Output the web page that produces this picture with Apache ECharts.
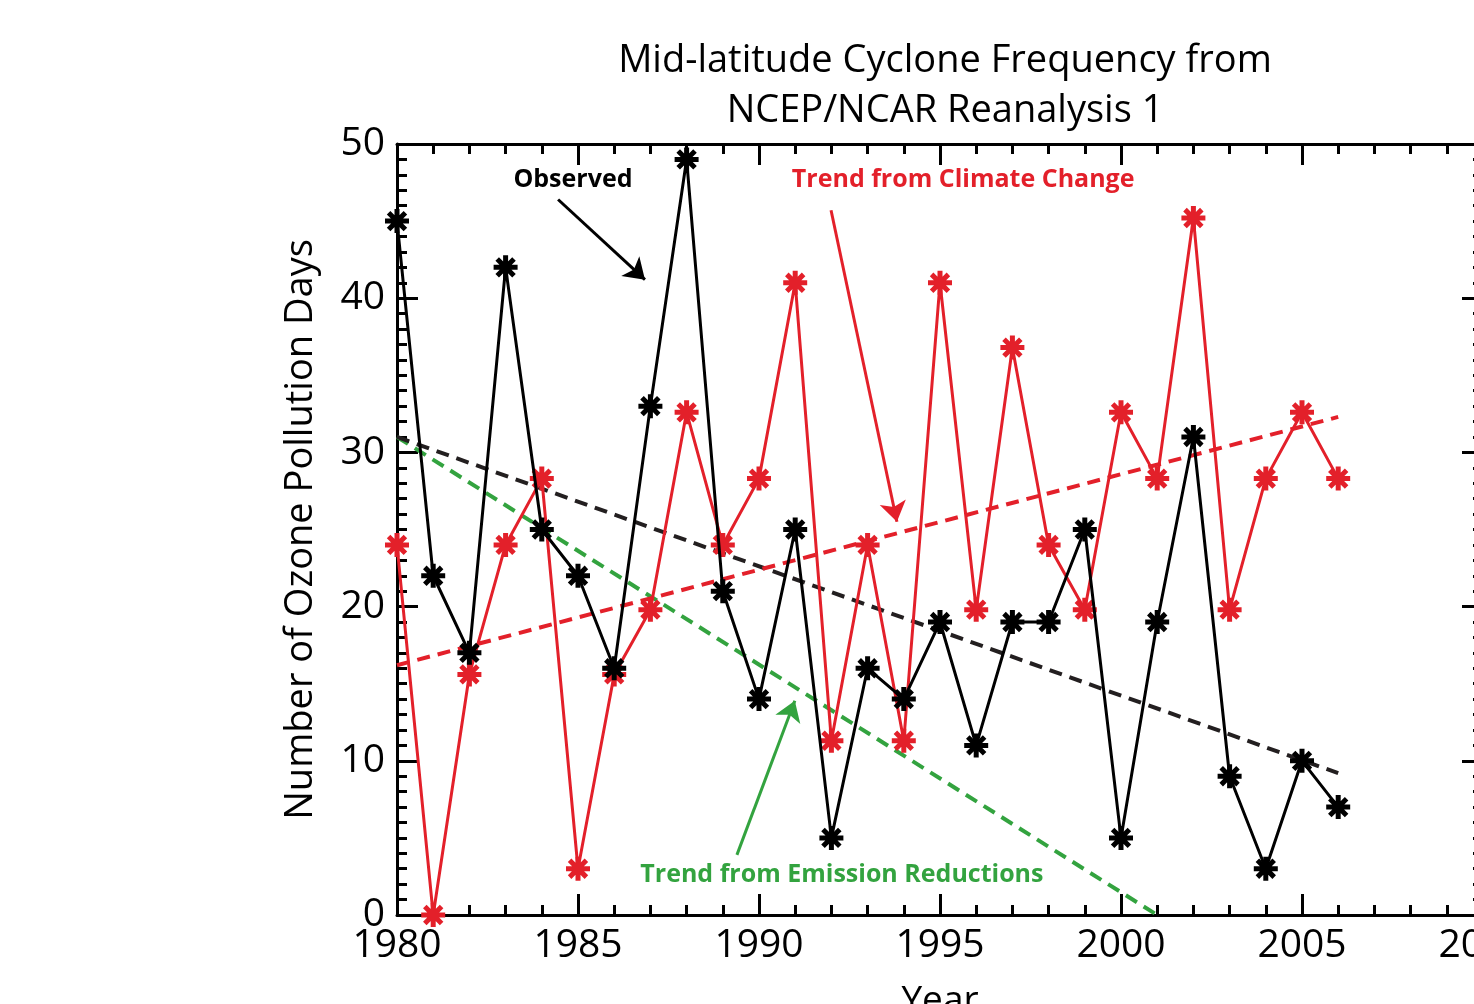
<!DOCTYPE html>
<html>
<head>
<meta charset="utf-8">
<script src="https://cdn.jsdelivr.net/npm/echarts@6/dist/echarts.min.js"></script>
<style>
  html, body { margin: 0; padding: 0; background: #fff; }
  #main { width: 1474px; height: 1004px; }
</style>
</head>
<body>
<div id="main"></div>
<script>
// data
var years = [1980, 1981, 1982, 1983, 1984, 1985, 1986, 1987, 1988, 1989, 1990, 1991, 1992, 1993,
  1994, 1995, 1996, 1997, 1998, 1999, 2000, 2001, 2002, 2003, 2004, 2005, 2006];
var observed = [45, 22, 17, 42, 25, 22, 16, 33, 49, 21, 14, 25, 5, 16, 14, 19, 11, 19, 19, 25, 5, 19, 31, 9, 3, 10, 7];
var climate = [24, 0, 15.6, 24, 28.3, 3, 15.6, 19.8, 32.6, 24, 28.3, 41, 11.3, 24, 11.3, 41, 19.8, 36.8, 24, 19.8,
  32.6, 28.3, 45.2, 19.8, 28.3, 32.6, 28.3];
var observedTrend = [[1980, 31], [2006, 9.2]];
var climateTrend = [[1980, 16.2], [2006, 32.3]];
var emissionTrend = [[1980, 31], [2001, 0]];
// annotations: [x, y] in data units
var notes = [
  { text: 'Observed', at: [1984.86, 47.7], from: [1984.45, 46.4], to: [1986.85, 41.2], color: '#000000' },
  { text: 'Trend from Climate Change', at: [1995.64, 47.7], from: [1991.99, 45.7], to: [1993.81, 25.5], color: '#e3202a' },
  { text: 'Trend from Emission Reductions', at: [1992.29, 2.6], from: [1989.39, 3.9], to: [1990.99, 13.9], color: '#33a33f' }
];

var FONT = '"Open Sans", sans-serif';
var RED = '#e3202a', GREEN = '#33a33f';
var STAR = 'path://M0,-10L0,10M-10,0L10,0M-7,-7L7,7M-7,7L7,-7';

function pairs(xs, ys) {
  return xs.map(function (x, i) { return [x, ys[i]]; });
}

var myChart = echarts.init(document.getElementById('main'));

function boxAxis(pos, isX, show) {
  return {
    type: 'value',
    position: pos,
    min: isX ? 1980 : 0,
    max: isX ? 2010 : 50,
    interval: isX ? 5 : 10,
    splitLine: { show: false },
    axisLine: { show: true, onZero: false, lineStyle: { color: '#000', width: 3 } },
    axisTick: { show: true, inside: true, length: 21, lineStyle: { color: '#000', width: 3 } },
    minorTick: { show: true, splitNumber: isX ? 5 : 10, length: 10, lineStyle: { color: '#000', width: 3 } },
    axisLabel: {
      show: show, color: '#000', fontFamily: FONT, fontSize: 39, margin: isX ? 11 : 12,
      formatter: function (v) { return String(v); }
    }
  };
}

var xBottom = boxAxis('bottom', true, true);
xBottom.name = 'Year';
xBottom.nameLocation = 'middle';
xBottom.nameGap = 68;
xBottom.nameTextStyle = { color: '#000', fontFamily: FONT, fontSize: 37 };
var yLeft = boxAxis('left', false, true);
yLeft.name = 'Number of Ozone Pollution Days';
yLeft.nameLocation = 'middle';
yLeft.nameGap = 77;
yLeft.nameTextStyle = { color: '#000', fontFamily: FONT, fontSize: 38 };

var arrowLines = notes.map(function (n) {
  return [
    { coord: n.from, lineStyle: { color: n.color, width: 3, type: 'solid' } },
    { coord: n.to }
  ];
});
var labelPoints = notes.map(function (n) {
  return {
    coord: n.at,
    symbol: 'rect',
    symbolSize: 1,
    itemStyle: { color: 'rgba(0,0,0,0)' },
    label: {
      show: true, position: 'inside', formatter: n.text, color: n.color,
      fontFamily: FONT, fontWeight: 'bold', fontSize: 25
    }
  };
});

myChart.setOption({
  animation: false,
  title: {
    text: 'Mid-latitude Cyclone Frequency from\nNCEP/NCAR Reanalysis 1',
    left: 940,
    top: 31,
    textAlign: 'center',
    textStyle: { color: '#000', fontFamily: FONT, fontWeight: 'normal', fontSize: 38, lineHeight: 50 }
  },
  grid: { left: 397, width: 1086, top: 144, height: 771, outerBoundsMode: 'none', containLabel: false },
  xAxis: [xBottom, boxAxis('top', true, false)],
  yAxis: [yLeft, boxAxis('right', false, false)],
  series: [
    {
      type: 'line', name: 'Emission trend', data: emissionTrend, showSymbol: false,
      lineStyle: { color: GREEN, width: 4, type: [13, 8] }, z: 2
    },
    {
      type: 'line', name: 'Observed trend', data: observedTrend, showSymbol: false,
      lineStyle: { color: '#231f20', width: 4, type: [13, 8] }, z: 2
    },
    {
      type: 'line', name: 'Climate trend', data: climateTrend, showSymbol: false,
      lineStyle: { color: RED, width: 4, type: [13, 8] }, z: 2
    },
    {
      type: 'line', name: 'Climate', data: pairs(years, climate),
      symbol: STAR, symbolSize: 24, showAllSymbol: true,
      lineStyle: { color: RED, width: 3 },
      itemStyle: { color: RED, borderColor: RED, borderWidth: 5 }, z: 3
    },
    {
      type: 'line', name: 'Observed', data: pairs(years, observed),
      symbol: STAR, symbolSize: 24, showAllSymbol: true,
      lineStyle: { color: '#000', width: 3 },
      itemStyle: { color: '#000', borderColor: '#000', borderWidth: 5 }, z: 4,
      markLine: {
        silent: true, symbol: ['none', 'arrow'], symbolSize: 20,
        label: { show: false }, data: arrowLines
      },
      markPoint: { silent: true, data: labelPoints }
    }
  ]
});
</script>
</body>
</html>
